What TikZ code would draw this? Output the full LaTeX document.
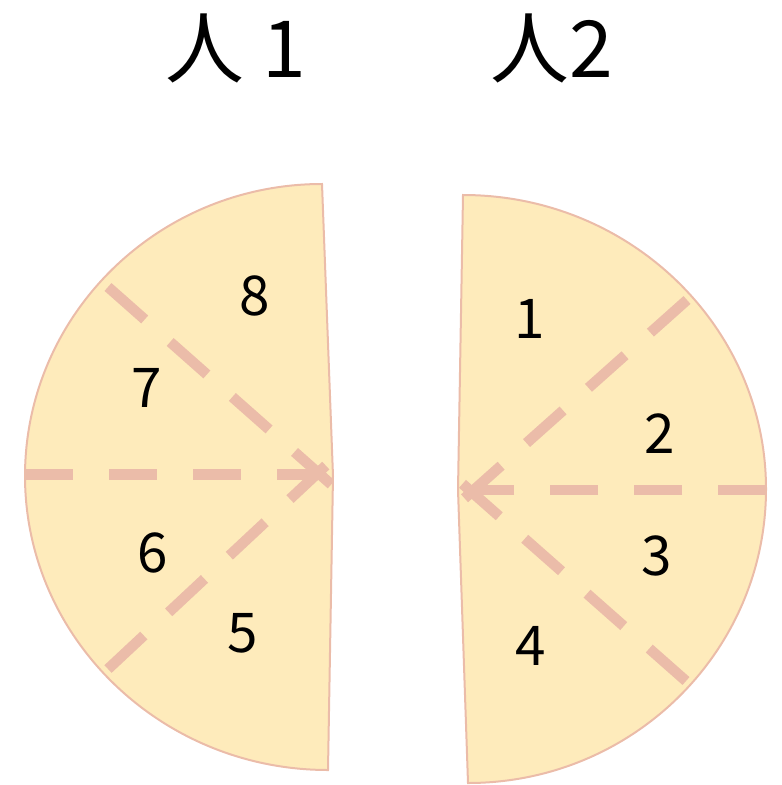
\documentclass[tikz,border=0pt]{standalone}
\usepackage{fontspec}
\newfontfamily\cjk{Noto Sans CJK JP}
\definecolor{fillY}{HTML}{FEEBBB}
\definecolor{pinkL}{HTML}{EBBCA9}
\newcommand\leftpiece{(322,184) -- (333,476) -- (328,770) .. controls (161,770) and (25,638) .. (25,476) .. controls (25,315) and (158,184) .. (322,184) -- cycle}
\newcommand\rightpiece{(463,195) .. controls (630,195) and (766,327) .. (766,489) .. controls (766,651) and (633,783) .. (468,783) -- (458,490) -- cycle}
\tikzset{
  piece/.style={fill=fillY, draw=none},
  rim/.style={draw=pinkL, line width=2bp, line join=miter},
  cutline/.style={draw=pinkL, line width=10.5bp, dash pattern=on 48bp off 36bp},
  diagline/.style={draw=pinkL, line width=10.5bp, dash pattern=on 49bp off 34bp},
  numlbl/.style={font=\cjk\fontsize{55}{60}\selectfont, text=black, inner sep=0pt},
  titlelbl/.style={font=\cjk\fontsize{79}{85}\selectfont, text=black, inner sep=0pt}
}
\begin{document}
\begin{tikzpicture}[x=1bp,y=-1bp]
\useasboundingbox (0,0) rectangle (782,785);
% pieces
\path[piece] \leftpiece;
\path[piece] \rightpiece;
% coordinates
\coordinate (lw) at (25,474.5);
\coordinate (lv) at (331,474.5);
\coordinate (lul) at (108,287);
\coordinate (lulend) at (333,486);
\coordinate (lll) at (108,669);
\coordinate (lllend) at (335,457);
\coordinate (re) at (766,490);
\coordinate (rv) at (458,490);
\coordinate (rur) at (687,300);
\coordinate (rurend) at (457,505);
\coordinate (rlr) at (686,681);
\coordinate (rlrend) at (457,479);
\begin{scope}
\clip \leftpiece;
\draw[cutline] (lw) -- (lv);
\draw[diagline] (lul) -- (lulend);
\draw[diagline] (lll) -- (lllend);
\end{scope}
\begin{scope}
\clip \rightpiece;
\draw[cutline] (re) -- (rv);
\draw[diagline] (rur) -- (rurend);
\draw[diagline] (rlr) -- (rlrend);
\end{scope}
\path[rim] \leftpiece;
\path[rim] \rightpiece;
% labels
\node[numlbl] (n8) at (255,296) {8};
\node[numlbl] (n7) at (147,388) {7};
\node[numlbl] (n6) at (153,553) {6};
\node[numlbl] (n5) at (243,633) {5};
\node[numlbl] (n1) at (530,319) {1};
\node[numlbl] (n2) at (660,434) {2};
\node[numlbl] (n3) at (657,556) {3};
\node[numlbl] (n4) at (531,646) {4};
\node[titlelbl] (t1) at (236,48) {人 1};
\node[titlelbl] (t2) at (552,48) {人2};
\end{tikzpicture}
\end{document}
